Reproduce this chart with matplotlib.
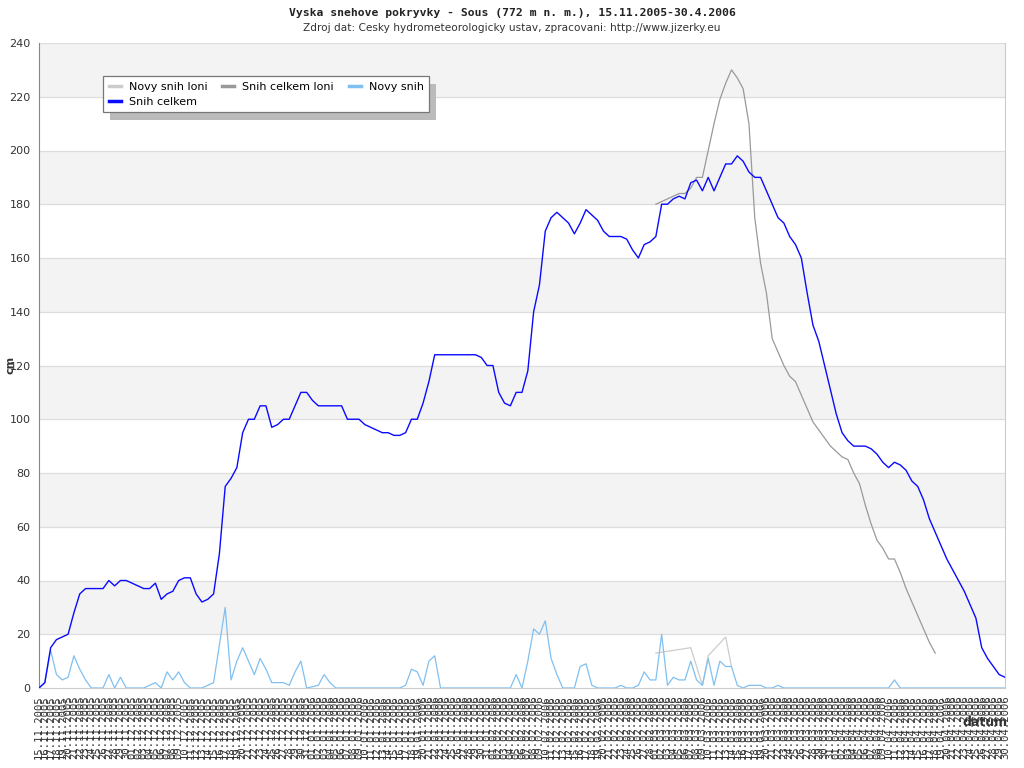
import matplotlib
matplotlib.use('Agg')
import matplotlib.pyplot as plt
from matplotlib.patches import Rectangle
from matplotlib.lines import Line2D
import pandas as pd

# daily dates of the season
dates = pd.date_range('2005-11-15', '2006-04-30', freq='D')
dateLabels = [d.strftime('%d.%m.%Y') for d in dates]

# total snow depth (cm), this season
snihCelkem = [
    0, 2, 15, 18, 19, 20, 28, 35, 37, 37,
    37, 37, 40, 38, 40, 40, 39, 38, 37, 37,
    39, 33, 35, 36, 40, 41, 41, 35, 32, 33,
    35, 50, 75, 78, 82, 95, 100, 100, 105, 105,
    97, 98, 100, 100, 105, 110, 110, 107, 105, 105,
    105, 105, 105, 100, 100, 100, 98, 97, 96, 95,
    95, 94, 94, 95, 100, 100, 106, 114, 124, 124,
    124, 124, 124, 124, 124, 124, 123, 120, 120, 110,
    106, 105, 110, 110, 118, 140, 150, 170, 175, 177,
    175, 173, 169, 173, 178, 176, 174, 170, 168, 168,
    168, 167, 163, 160, 165, 166, 168, 180, 180, 182,
    183, 182, 188, 189, 185, 190, 185, 190, 195, 195,
    198, 196, 192, 190, 190, 185, 180, 175, 173, 168,
    165, 160, 147, 135, 129, 120, 111, 102, 95, 92,
    90, 90, 90, 89, 87, 84, 82, 84, 83, 81,
    77, 75, 70, 63, 58, 53, 48, 44, 40, 36,
    31, 26, 15, 11, 8, 5, 4,
]

# new snow (cm), this season
novySnih = [
    0, 2, 14, 5, 3, 4, 12, 7, 3, 0,
    0, 0, 5, 0, 4, 0, 0, 0, 0, 1,
    2, 0, 6, 3, 6, 2, 0, 0, 0, 1,
    2, 16, 30, 3, 10, 15, 10, 5, 11, 7,
    2, 2, 2, 1, 6, 10, 0, 0.5, 1, 5,
    2, 0, 0, 0, 0, 0, 0, 0, 0, 0,
    0, 0, 0, 1, 7, 6, 1, 10, 12, 0,
    0, 0, 0, 0, 0, 0, 0, 0, 0, 0,
    0, 0, 5, 0, 10, 22, 20, 25, 11, 5,
    0, 0, 0, 8, 9, 1, 0, 0, 0, 0,
    1, 0, 0, 1, 6, 3, 3, 20, 1, 4,
    3, 3, 10, 3, 1, 11, 1, 10, 8, 8,
    1, 0, 1, 1, 1, 0, 0, 1, 0, 0,
    0, 0, 0, 0, 0, 0, 0, 0, 0, 0,
    0, 0, 0, 0, 0, 0, 0, 3, 0, 0,
    0, 0, 0, 0, 0, 0, 0, 0, 0, 0,
    0, 0, 0, 0, 0, 0, 0,
]

# total snow depth last season (from 1.3.)
snihCelkemLoniStart = '2006-03-01'
snihCelkemLoni = [
    180, 181, 182, 183, 184, 184, 186, 190, 190, 200,
    210, 219, 225, 230, 227, 223, 210, 175, 158, 147,
    130, 125, 120, 116, 114, 109, 104, 99, 96, 93,
    90, 88, 86, 85, 80, 76, 68, 61, 55, 52,
    48, 48, 43, 37, 32, 27, 22, 17, 13,
]

# new snow last season (only some days)
novySnihLoniDates = ['2006-03-01', '2006-03-07', '2006-03-09', '2006-03-10', '2006-03-13', '2006-03-14']
novySnihLoni = [13, 15, 1, 12, 19, 8]

colCelkem = '#0a0aff'
colNovy = '#80c0f0'
colCelkemLoni = '#999999'
colNovyLoni = '#cccccc'

fig = plt.figure(figsize=(10.24, 7.68), dpi=100)
ax = fig.add_axes([39 / 1024, 80 / 768, 966 / 1024, 645 / 768])

# alternating background bands + grid
for lo in range(20, 240, 40):
    ax.axhspan(lo, lo + 20, color='#f3f3f3', lw=0, zorder=0)
for y in range(20, 241, 20):
    ax.axhline(y, color='#dddddd', lw=0.9, zorder=0.5)

x = list(range(len(dates)))
xLoni = dates.get_indexer([pd.Timestamp(snihCelkemLoniStart)])[0]
xCelkemLoni = list(range(xLoni, xLoni + len(snihCelkemLoni)))
xNovyLoni = list(dates.get_indexer(pd.to_datetime(novySnihLoniDates)))

ax.plot(xNovyLoni, novySnihLoni, color=colNovyLoni, lw=0.9, zorder=2)
ax.plot(xCelkemLoni, snihCelkemLoni, color=colCelkemLoni, lw=0.9, zorder=2)
ax.plot(x, novySnih, color=colNovy, lw=0.9, zorder=3)
ax.plot(x, snihCelkem, color=colCelkem, lw=1.0, zorder=4)

ax.set_xlim(0, len(dates) - 1)
ax.set_ylim(0, 240)
ax.set_yticks(range(0, 241, 20))
ax.tick_params(axis='y', length=0, labelsize=8, labelcolor='#333333', pad=6)
ax.set_xticks(x)
ax.set_xticklabels(dateLabels, rotation=90, fontsize=7.6, family='DejaVu Sans Mono',
                   color='#333333')
ax.tick_params(axis='x', length=0, pad=5)

ax.spines['top'].set_visible(False)
ax.spines['left'].set_color('#888888')
ax.spines['bottom'].set_color('#cccccc')
ax.spines['right'].set_color('#cccccc')

fig.text(10 / 1024, 1 - 365 / 768, 'cm', rotation=90, fontsize=8, fontweight='bold',
         color='#333333', ha='center', va='center')
fig.text(985 / 1024, 1 - 722 / 768, 'datum', fontsize=9, fontweight='bold', color='#333333',
         ha='center', va='center')

fig.text(0.5, 1 - 13 / 768, 'Vyska snehove pokryvky - Sous (772 m n. m.), 15.11.2005-30.4.2006',
         ha='center', va='center', fontsize=8.2, fontweight='bold', family='DejaVu Sans Mono',
         color='#222222')
fig.text(0.5, 1 - 28 / 768, 'Zdroj dat: Cesky hydrometeorologicky ustav, zpracovani: http://www.jizerky.eu',
         ha='center', va='center', fontsize=7.6, color='#333333')

handles = [
    Line2D([], [], color=colNovyLoni, lw=2.5),
    Line2D([], [], color=colCelkem, lw=2.5),
    Line2D([], [], color=colCelkemLoni, lw=2.5),
    Line2D([], [], color=colNovy, lw=2.5),
]
labels = ['Novy snih loni', 'Snih celkem', 'Snih celkem loni', 'Novy snih']
leg = fig.legend(handles, labels, ncol=3, loc='upper left',
                 bbox_to_anchor=(103 / 1024, 1 - 76 / 768), fontsize=8,
                 frameon=True, fancybox=False, framealpha=1, edgecolor='#777777',
                 handlelength=1.1, handletextpad=0.7, columnspacing=1.35,
                 borderpad=0.5, labelspacing=0.45, borderaxespad=0)
leg.get_frame().set_linewidth(0.9)
leg.set_zorder(5)

# offset shadow behind the legend box
fig.canvas.draw()
bb = leg.get_window_extent()
shadow = Rectangle((bb.x0 + 7, bb.y0 - 8), bb.width, bb.height, transform=None,
                   facecolor='#bbbbbb', edgecolor='none', zorder=4)
fig.patches.append(shadow)

fig.savefig('out.png', dpi=100)
